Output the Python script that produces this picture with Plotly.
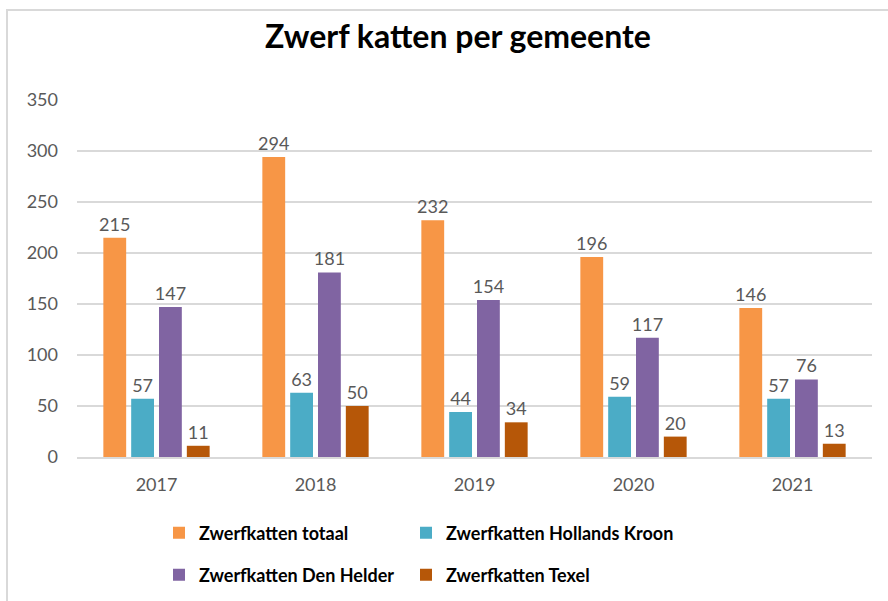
import plotly.graph_objects as go

years = ["2017", "2018", "2019", "2020", "2021"]
totaal = [215, 294, 232, 196, 146]
hollands_kroon = [57, 63, 44, 59, 57]
den_helder = [147, 181, 154, 117, 76]
texel = [11, 50, 34, 20, 13]

W, H = 888, 601
FONT = "Lato, Open Sans, sans-serif"

# legend id, legend x (px), legend y (px)
series = [
    ("Zwerfkatten totaal", totaal, "#F79646", "legend", 159, 533),
    ("Zwerfkatten Hollands Kroon", hollands_kroon, "#4BACC6", "legend2", 406, 533),
    ("Zwerfkatten Den Helder", den_helder, "#8064A2", "legend3", 159, 575),
    ("Zwerfkatten Texel", texel, "#B65708", "legend4", 406, 575),
]

fig = go.Figure()
legends = {}
for name, vals, color, leg, lx, ly in series:
    fig.add_trace(go.Bar(
        x=years, y=vals, name=name,
        marker=dict(color=color, line=dict(width=0)),
        text=vals, textposition="outside", cliponaxis=False,
        textfont=dict(size=18, color="#595959", family=FONT),
        legend=leg,
    ))
    legends[leg] = dict(
        x=lx / W, y=1 - ly / H, xref="container", yref="container",
        orientation="h", xanchor="left", yanchor="middle",
        font=dict(size=18, color="#000000", family=FONT, weight="bold"),
        bgcolor="rgba(0,0,0,0)", itemwidth=30,
    )

L, R, T, B = 77, 16, 100, 144
pw = W - L - R
ph = H - T - B

def px_x(x):
    return (x - L) / pw

def px_y(y):
    return (H - B - y) / ph

fig.update_layout(
    width=W, height=H,
    margin=dict(l=L, r=R, t=T, b=B, autoexpand=False),
    paper_bgcolor="white", plot_bgcolor="white",
    uniformtext=dict(minsize=18, mode="show"),
    title=dict(text="<b>Zwerf katten per gemeente</b>", x=458 / W,
               xanchor="center", y=1 - 37 / H, yanchor="middle",
               font=dict(size=32, color="#000000", family=FONT)),
    barmode="group", bargap=0.3, bargroupgap=0.18,
    showlegend=True,
    xaxis=dict(showgrid=False, showline=True, linecolor="#D9D9D9", linewidth=2,
               ticks="", tickfont=dict(size=18, color="#595959", family=FONT),
               ticklabelstandoff=10),
    yaxis=dict(range=[0, 350], dtick=50, showgrid=True, gridcolor="#D9D9D9",
               gridwidth=2, zeroline=False, showline=False, ticks="",
               tickfont=dict(size=18, color="#595959", family=FONT),
               ticklabelstandoff=18),
    shapes=[dict(type="rect", xref="paper", yref="paper",
                 x0=px_x(7), x1=px_x(900), y0=px_y(620), y1=px_y(10),
                 line=dict(color="#D9D9D9", width=2), layer="below")],
    **legends,
)

fig.write_html("out.html", config={"displayModeBar": False},
               post_script="document.body.style.margin='0';")
